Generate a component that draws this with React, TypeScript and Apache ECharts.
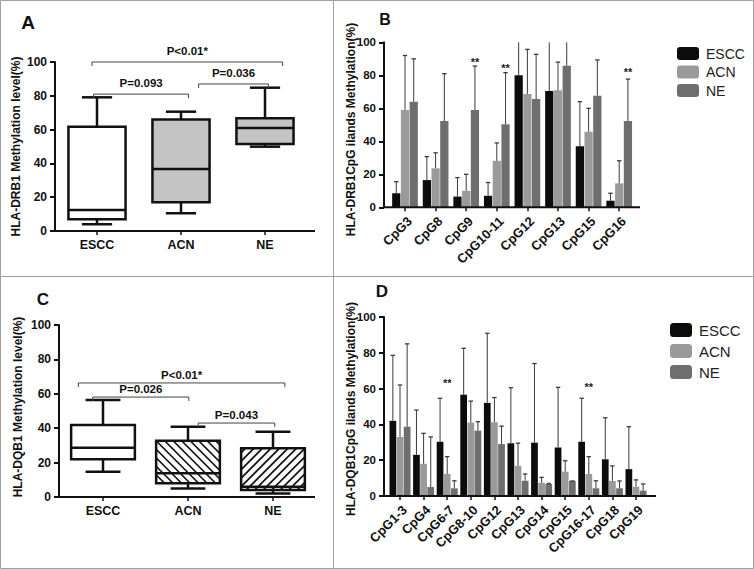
import React, { useEffect, useRef } from 'react';
import * as echarts from 'echarts';

const FONT = "'Liberation Sans', Arial, Helvetica, sans-serif";

// ---------- data ----------
const groups = ['ESCC', 'ACN', 'NE'];
const groupColors = ['#0c0c0c', '#9a9a9a', '#6e6e6e'];

const boxCategories = ['ESCC', 'ACN', 'NE'];
// [min, q1, median, q3, max]
const drb1Box = [
  [4, 7, 12.4, 61.7, 79.1],
  [10.5, 17, 36.7, 66, 70.6],
  [49.9, 51.5, 61, 66.7, 84.8],
];
const dqb1Box = [
  [14.7, 22, 28.7, 41.9, 56.4],
  [5, 8, 13.8, 32.7, 40.9],
  [2.1, 4, 6, 28.3, 38],
];
// [from (category units), to (category units), y]
const drb1Brackets = [
  [-0.06, 2.21, 100],
  [-0.04, 1.09, 81],
  [1.21, 2.04, 87],
];
const drb1BracketLabels = ['P<0.01*', 'P=0.093', 'P=0.036'];
const dqb1Brackets = [
  [-0.29, 2.14, 66.3],
  [-0.12, 1.01, 58.1],
  [1.12, 2.02, 43],
];
const dqb1BracketLabels = ['P<0.01*', 'P=0.026', 'P=0.043'];

const drb1Categories = ['CpG3', 'CpG8', 'CpG9', 'CpG10-11', 'CpG12', 'CpG13', 'CpG15', 'CpG16'];
const drb1Escc = [8.5, 16.5, 6.5, 7, 80, 70.5, 37, 4];
const drb1EsccUpper = [15.5, 30.7, 18, 15, 112, 108, 64, 8.5];
const drb1Acn = [59, 23.6, 10, 28.2, 68.7, 71, 45.8, 14.5];
const drb1AcnUpper = [92, 33, 20, 39, 95.7, 88, 60, 28.2];
const drb1Ne = [64, 52.3, 59, 50.3, 65.6, 85.8, 67.6, 52.3];
const drb1NeUpper = [90, 81, 85.6, 81.6, 92.7, 104, 89.3, 77.7];
const drb1Stars = [[2, 89.7], [3, 86], [7, 84]];

const dqb1Categories = ['CpG1-3', 'CpG4', 'CpG6-7', 'CpG8-10', 'CpG12', 'CpG13', 'CpG14', 'CpG15', 'CpG16-17', 'CpG18', 'CpG19'];
const dqb1Escc = [42, 23, 30.3, 56.6, 52, 29.5, 29.8, 27.1, 30.3, 20.5, 15];
const dqb1EsccUpper = [78.6, 48, 54.6, 82.5, 90.9, 60.5, 74, 60.7, 54.6, 43.7, 38.7];
const dqb1Acn = [33, 18, 12.3, 41, 41.2, 16.8, 7.4, 13.6, 12.3, 8.4, 5.2];
const dqb1AcnUpper = [62, 35, 22, 53, 55, 29.5, 10.4, 19.7, 22, 16.8, 9];
const dqb1Ne = [38.7, 5, 4.3, 36.5, 29, 8.5, 6.7, 8.4, 4.3, 4.3, 3];
const dqb1NeUpper = [85, 33, 8.5, 41.5, 39, 12.3, 7, 8.4, 8.5, 8.4, 6.7];
const dqb1Stars = [[2, 65], [8, 62.6]];

// ---------- styles ----------
const drb1BoxFills = ['#ffffff', '#c4c4c4', '#c4c4c4'];
const drb1BoxHatch = [0, 0, 0];
const dqb1BoxFills = ['#ffffff', '#ffffff', '#ffffff'];
const dqb1BoxHatch = [0, -1, 1];

const B_CAT_GAP = 0.16;
const D_CAT_GAP = 0.11;
const BAR_GAP = 0.06;

function boxRender(fills: string[], hatches: number[], boxFrac: number, capFrac: number) {
  return (params: any, api: any) => {
    const i = api.value(0);
    const band = api.size([1, 0])[0];
    const pMin = api.coord([i, api.value(1)]);
    const cx = pMin[0];
    const yMin = pMin[1];
    const yQ1 = api.coord([i, api.value(2)])[1];
    const yMed = api.coord([i, api.value(3)])[1];
    const yQ3 = api.coord([i, api.value(4)])[1];
    const yMax = api.coord([i, api.value(5)])[1];
    const hw = (band * boxFrac) / 2;
    const cw = (band * capFrac) / 2;
    const x0 = cx - hw;
    const x1 = cx + hw;
    const ls = { stroke: '#111', lineWidth: 2.5 };
    const children: any[] = [];
    children.push({ type: 'line', shape: { x1: cx, y1: yMin, x2: cx, y2: yMax }, style: ls });
    children.push({ type: 'line', shape: { x1: cx - cw, y1: yMin, x2: cx + cw, y2: yMin }, style: ls });
    children.push({ type: 'line', shape: { x1: cx - cw, y1: yMax, x2: cx + cw, y2: yMax }, style: ls });
    children.push({
      type: 'rect',
      shape: { x: x0, y: yQ3, width: 2 * hw, height: yQ1 - yQ3 },
      style: { fill: fills[params.dataIndex], stroke: 'none' },
    });
    const h = hatches[params.dataIndex];
    const step = 8.5;
    const hs = { stroke: '#111', lineWidth: 1.7 };
    if (h === -1) {
      // "\" lines: y = x + c
      for (let c = yQ3 - x1 + step / 2; c < yQ1 - x0; c += step) {
        const xs = Math.max(x0, yQ3 - c);
        const xe = Math.min(x1, yQ1 - c);
        if (xe > xs) children.push({ type: 'line', shape: { x1: xs, y1: xs + c, x2: xe, y2: xe + c }, style: hs });
      }
    } else if (h === 1) {
      // "/" lines: y = -x + c
      for (let c = x0 + yQ3 + step / 2; c < x1 + yQ1; c += step) {
        const xs = Math.max(x0, c - yQ1);
        const xe = Math.min(x1, c - yQ3);
        if (xe > xs) children.push({ type: 'line', shape: { x1: xs, y1: c - xs, x2: xe, y2: c - xe }, style: hs });
      }
    }
    children.push({
      type: 'rect',
      shape: { x: x0, y: yQ3, width: 2 * hw, height: yQ1 - yQ3 },
      style: { fill: 'none', stroke: '#111', lineWidth: 2.5 },
    });
    children.push({ type: 'line', shape: { x1: x0, y1: yMed, x2: x1, y2: yMed }, style: ls });
    return { type: 'group', children };
  };
}

function bracketRender(labels: string[], textGap: number) {
  return (params: any, api: any) => {
    const band = api.size([1, 0])[0];
    const o = api.coord([0, api.value(1)]);
    const xa = o[0] + api.value(2) * band;
    const xb = o[0] + api.value(3) * band;
    const y = o[1];
    return {
      type: 'group',
      children: [
        {
          type: 'polyline',
          shape: { points: [[xa, y + 4], [xa, y], [xb, y], [xb, y + 4]] },
          style: { stroke: '#444', lineWidth: 1, fill: null },
        },
        {
          type: 'text',
          x: (xa + xb) / 2,
          y: y - textGap,
          style: {
            text: labels[params.dataIndex],
            font: `bold 11.5px ${FONT}`,
            fill: '#111',
            align: 'center',
            verticalAlign: 'middle',
            textAlign: 'center',
            textVerticalAlign: 'middle',
          },
        },
      ],
    };
  };
}

function groupCenter(api: any, i: number, y: number, group: number, catGap: number) {
  const p = api.coord([i, y]);
  const band = api.size([1, 0])[0];
  const usable = band * (1 - catGap);
  const w = usable / (3 + 2 * BAR_GAP);
  return [p[0] - usable / 2 + w / 2 + group * w * (1 + BAR_GAP), p[1]];
}

function errorRender(group: number, catGap: number) {
  return (params: any, api: any) => {
    const i = api.value(0);
    const p = groupCenter(api, i, api.value(1), group, catGap);
    const u = api.coord([i, api.value(2)]);
    const top = params.coordSys.y;
    const yEnd = Math.max(u[1], top);
    const st = { stroke: '#3a3a3a', lineWidth: 1 };
    const children: any[] = [{ type: 'line', shape: { x1: p[0], y1: p[1], x2: p[0], y2: yEnd }, style: st }];
    if (u[1] >= top) {
      children.push({ type: 'line', shape: { x1: p[0] - 2.2, y1: u[1], x2: p[0] + 2.2, y2: u[1] }, style: { stroke: '#3a3a3a', lineWidth: 1.3 } });
    }
    return { type: 'group', children };
  };
}

function starRender(group: number, catGap: number) {
  return (params: any, api: any) => {
    const p = groupCenter(api, api.value(0), api.value(1), group, catGap);
    return {
      type: 'text',
      x: p[0],
      y: p[1] + 3,
      style: {
        text: '**',
        font: `bold 11px ${FONT}`,
        fill: '#222',
        align: 'center',
        verticalAlign: 'middle',
        textAlign: 'center',
        textVerticalAlign: 'middle',
      },
    };
  };
}

const yAxisBase = (gridIndex: number, offset: number, fontSize: number) => ({
  type: 'value',
  gridIndex,
  min: 0,
  max: 100,
  interval: 20,
  offset,
  axisLine: { show: true, lineStyle: { color: '#111', width: 2 } },
  axisTick: { show: true, length: 5, lineStyle: { color: '#111', width: 2 } },
  axisLabel: { fontFamily: FONT, fontSize, fontWeight: 'bold', color: '#111', margin: 8 },
  splitLine: { show: false },
});

const xAxisBase = (gridIndex: number, data: string[], rotate: number) => ({
  type: 'category',
  gridIndex,
  data,
  axisLine: { show: false },
  axisTick: { show: true, alignWithLabel: true, length: 4, lineStyle: { color: '#111', width: 1.5 } },
  axisLabel: rotate
    ? {
        fontFamily: FONT,
        fontSize: 13,
        fontWeight: 'bold',
        color: '#111',
        rotate,
        interval: 0,
        margin: 7,
        align: 'right',
        verticalAlign: 'top',
      }
    : {
        fontFamily: FONT,
        fontSize: 12.5,
        fontWeight: 'bold',
        color: '#111',
        interval: 0,
        margin: 7,
      },
  splitLine: { show: false },
});

const legendBase = (left: number, top: number, fontSize: number, itemHeight: number, gap: number) => ({
  data: groups,
  orient: 'vertical',
  left,
  top,
  padding: 0,
  itemWidth: 22,
  itemHeight,
  itemGap: gap,
  icon: 'roundRect',
  selectedMode: false,
  textStyle: { fontFamily: FONT, fontSize, color: '#222', lineHeight: fontSize, padding: [0, 0, 0, 2] },
});

const barSeries = (idx: number, name: string, values: number[], color: string, catGap: number) => ({
  type: 'bar',
  name,
  xAxisIndex: idx,
  yAxisIndex: idx,
  data: values,
  barCategoryGap: `${catGap * 100}%`,
  barGap: `${BAR_GAP * 100}%`,
  itemStyle: { color },
});

const errSeries = (idx: number, group: number, values: number[], uppers: number[], catGap: number) => ({
  type: 'custom',
  name: `err${idx}-${group}`,
  coordinateSystem: 'cartesian2d',
  xAxisIndex: idx,
  yAxisIndex: idx,
  encode: { x: 0, y: 1 },
  data: values.map((v, i) => [i, v, uppers[i]]),
  renderItem: errorRender(group, catGap),
  z: 3,
});

const titleText = (text: string, x: number, y: number) => ({
  type: 'text',
  x,
  y,
  rotation: Math.PI / 2,
  style: {
    text,
    font: `bold 12px ${FONT}`,
    fill: '#111',
    align: 'center',
    verticalAlign: 'middle',
    textAlign: 'center',
    textVerticalAlign: 'middle',
  },
});

const panelLetter = (text: string, x: number, y: number, size: number) => ({
  type: 'text',
  x,
  y,
  style: {
    text,
    font: `bold ${size}px ${FONT}`,
    fill: '#111',
    align: 'center',
    verticalAlign: 'middle',
    textAlign: 'center',
    textVerticalAlign: 'middle',
  },
});

const baseline = (x1: number, x2: number, y: number) => ({
  type: 'line',
  shape: { x1, y1: y, x2, y2: y },
  style: { stroke: '#111', lineWidth: 2 },
  z: 10,
});

const option: any = {
  animation: false,
  backgroundColor: '#ffffff',
  grid: [
    { left: 55, top: 62, width: 252, height: 169 },
    { left: 389.7, top: 42.3, width: 244.8, height: 165 },
    { left: 60.5, top: 325, width: 255, height: 172 },
    { left: 388.2, top: 317, width: 259.6, height: 179 },
  ],
  xAxis: [
    xAxisBase(0, boxCategories, 0),
    xAxisBase(1, drb1Categories, 45),
    xAxisBase(2, boxCategories, 0),
    xAxisBase(3, dqb1Categories, 45),
  ],
  yAxis: [yAxisBase(0, 0, 12), yAxisBase(1, 5.7, 11.5), yAxisBase(2, 1.5, 12), yAxisBase(3, 4.2, 11.5)],
  legend: [legendBase(677, 46.5, 14, 13, 4.5), legendBase(670, 322.5, 15, 14, 6)],
  graphic: [
    { type: 'rect', shape: { x: 0.5, y: 0.5, width: 753, height: 568 }, style: { fill: 'none', stroke: '#a0a0a0', lineWidth: 1 } },
    { type: 'line', shape: { x1: 333.5, y1: 0, x2: 333.5, y2: 569 }, style: { stroke: '#a0a0a0', lineWidth: 1 } },
    { type: 'line', shape: { x1: 0, y1: 276.5, x2: 754, y2: 276.5 }, style: { stroke: '#a0a0a0', lineWidth: 1 } },
    baseline(54, 315, 231),
    baseline(383, 640, 207.3),
    baseline(58, 315, 497),
    baseline(383, 656, 496),
    titleText('HLA-DRB1 Methylation level(%)', 16, 146.5),
    titleText('HLA-DRB1CpG ilands Methylation(%)', 351, 129.5),
    titleText('HLA-DQB1 Methylation level(%)', 18, 407),
    titleText('HLA-DQB1CpG ilands Methylation(%)', 351, 409),
    panelLetter('A', 28, 22, 19),
    panelLetter('B', 385, 19, 16),
    panelLetter('C', 43, 299, 17),
    panelLetter('D', 382, 291, 17),
  ],
  series: [
    {
      type: 'custom',
      name: 'boxA',
      coordinateSystem: 'cartesian2d',
      xAxisIndex: 0,
      yAxisIndex: 0,
      encode: { x: 0, y: 1 },
      data: drb1Box.map((b, i) => [i, ...b]),
      renderItem: boxRender(drb1BoxFills, drb1BoxHatch, 0.68, 0.36),
    },
    {
      type: 'custom',
      name: 'bracketsA',
      coordinateSystem: 'cartesian2d',
      xAxisIndex: 0,
      yAxisIndex: 0,
      encode: { x: 0, y: 1 },
      data: drb1Brackets.map((b) => [0, b[2], b[0], b[1]]),
      renderItem: bracketRender(drb1BracketLabels, 11),
    },
    {
      type: 'custom',
      name: 'boxC',
      coordinateSystem: 'cartesian2d',
      xAxisIndex: 2,
      yAxisIndex: 2,
      encode: { x: 0, y: 1 },
      data: dqb1Box.map((b, i) => [i, ...b]),
      renderItem: boxRender(dqb1BoxFills, dqb1BoxHatch, 0.75, 0.41),
    },
    {
      type: 'custom',
      name: 'bracketsC',
      coordinateSystem: 'cartesian2d',
      xAxisIndex: 2,
      yAxisIndex: 2,
      encode: { x: 0, y: 1 },
      data: dqb1Brackets.map((b) => [0, b[2], b[0], b[1]]),
      renderItem: bracketRender(dqb1BracketLabels, 8),
    },
    barSeries(1, groups[0], drb1Escc, groupColors[0], B_CAT_GAP),
    barSeries(1, groups[1], drb1Acn, groupColors[1], B_CAT_GAP),
    barSeries(1, groups[2], drb1Ne, groupColors[2], B_CAT_GAP),
    errSeries(1, 0, drb1Escc, drb1EsccUpper, B_CAT_GAP),
    errSeries(1, 1, drb1Acn, drb1AcnUpper, B_CAT_GAP),
    errSeries(1, 2, drb1Ne, drb1NeUpper, B_CAT_GAP),
    {
      type: 'custom',
      name: 'starsB',
      coordinateSystem: 'cartesian2d',
      xAxisIndex: 1,
      yAxisIndex: 1,
      encode: { x: 0, y: 1 },
      data: drb1Stars,
      renderItem: starRender(2, B_CAT_GAP),
    },
    barSeries(3, groups[0], dqb1Escc, groupColors[0], D_CAT_GAP),
    barSeries(3, groups[1], dqb1Acn, groupColors[1], D_CAT_GAP),
    barSeries(3, groups[2], dqb1Ne, groupColors[2], D_CAT_GAP),
    errSeries(3, 0, dqb1Escc, dqb1EsccUpper, D_CAT_GAP),
    errSeries(3, 1, dqb1Acn, dqb1AcnUpper, D_CAT_GAP),
    errSeries(3, 2, dqb1Ne, dqb1NeUpper, D_CAT_GAP),
    {
      type: 'custom',
      name: 'starsD',
      coordinateSystem: 'cartesian2d',
      xAxisIndex: 3,
      yAxisIndex: 3,
      encode: { x: 0, y: 1 },
      data: dqb1Stars,
      renderItem: starRender(1, D_CAT_GAP),
    },
  ],
};

export default function App() {
  const ref = useRef<HTMLDivElement>(null);
  useEffect(() => {
    const chart = echarts.init(ref.current as HTMLDivElement, null, { renderer: 'svg' });
    chart.setOption(option);
    return () => chart.dispose();
  }, []);
  return (
    <div
      ref={ref}
      style={{ position: 'fixed', left: 0, top: 0, width: 754, height: 569, background: '#fff' }}
    />
  );
}
